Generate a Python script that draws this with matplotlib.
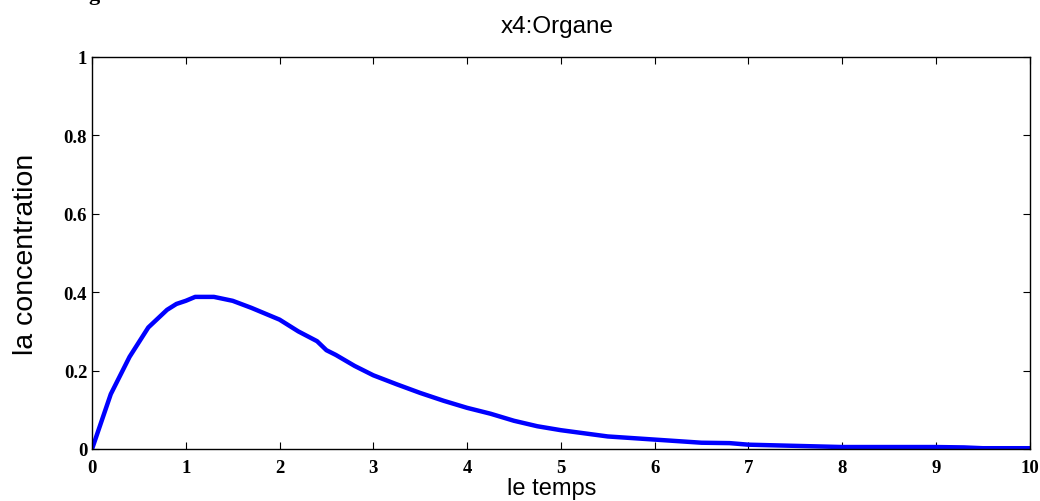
import numpy as np
import matplotlib.pyplot as plt

# x4: organe concentration
temps = [0, 0.2, 0.4, 0.6, 0.8, 0.9, 1.0, 1.1, 1.3, 1.5, 1.7, 1.9, 2.0, 2.2, 2.4, 2.5,
         2.6, 2.8, 3.0, 3.25, 3.5, 3.75, 4.0, 4.25, 4.5, 4.75, 5.0, 5.5, 6.0, 6.5,
         6.8, 7.0, 7.5, 8.0, 8.5, 9.0, 9.3, 9.5, 10.0]
conc = [0.0, 0.14, 0.235, 0.31, 0.355, 0.37, 0.378, 0.388, 0.388, 0.378, 0.36, 0.34, 0.33,
        0.30, 0.275, 0.252, 0.24, 0.212, 0.188, 0.165, 0.143, 0.123, 0.105, 0.09,
        0.072, 0.058, 0.048, 0.032, 0.024, 0.016, 0.015, 0.011, 0.008, 0.005,
        0.005, 0.005, 0.004, 0.002, 0.002]
xticks = [0, 1, 2, 3, 4, 5, 6, 7, 8, 9, 10]
yticks = [0, 0.2, 0.4, 0.6, 0.8, 1]
ylabels = ['0', '0.2', '0.4', '0.6', '0.8', '1']

fig = plt.figure(figsize=(10.4, 5.02), dpi=100)
ax = fig.add_axes([0.0885, 0.1036, 0.9015, 0.7809])
ax.plot(temps, conc, color='#0000ff', lw=3.2, solid_joinstyle='round')
ax.set_xlim(0, 10)
ax.set_ylim(0, 1)
ax.set_xticks(xticks)
ax.set_xticklabels([str(t) for t in xticks])
ax.set_yticks(yticks)
ax.set_yticklabels(ylabels)
ax.tick_params(direction='in', length=5, width=0.8, top=True, right=True,
               labelsize=13.5)
ax.tick_params(axis='x', pad=7)
ax.tick_params(axis='y', pad=3.5)
for lab in ax.get_xticklabels() + ax.get_yticklabels():
    lab.set_family('Liberation Serif')
    lab.set_fontweight('bold')
for s in ax.spines.values():
    s.set_linewidth(1.0)

fig.text(0.5356, 0.934, 'x4:Organe', family='Liberation Sans', fontsize=17.5,
         ha='center', va='baseline')
ax.set_xlabel('le temps', family='Liberation Sans', fontsize=17)
ax.xaxis.set_label_coords(0.49, -0.072)
ax.set_ylabel('la concentration', family='Liberation Sans', fontsize=20.5)
ax.yaxis.set_label_coords(-0.0565, 0.5)
fig.text(88 / 1040, 1.0, 'g', family='Liberation Serif', fontweight='bold', fontsize=16,
         va='baseline', ha='left')

fig.savefig('out.png', dpi=100)
